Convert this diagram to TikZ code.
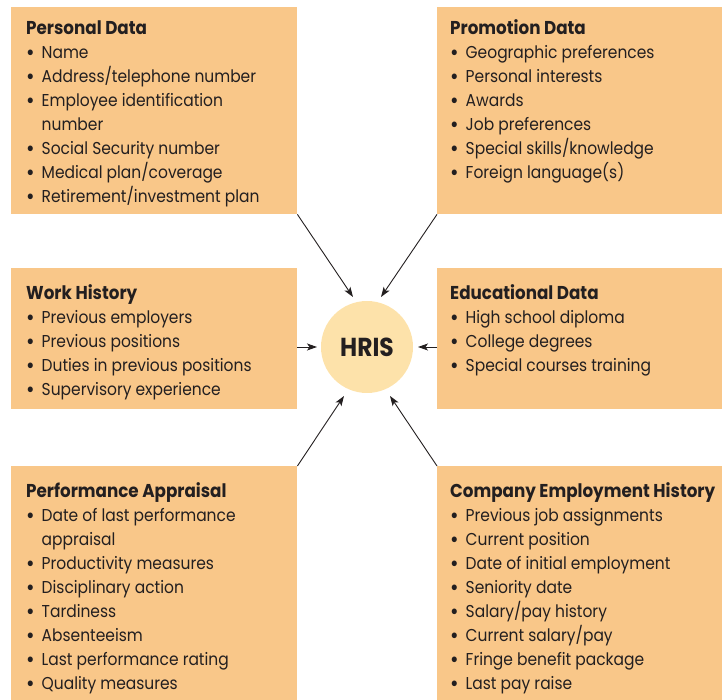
\documentclass[tikz,border=0pt]{standalone}
\usepackage{fontspec}
\setmainfont[FakeStretch=0.9]{Poppins}
\usetikzlibrary{arrows.meta}
\definecolor{boxfill}{RGB}{249,199,137}
\definecolor{hrisfill}{RGB}{253,226,170}
\definecolor{ink}{RGB}{35,31,32}
\newcommand{\bi}[1]{\makebox[15.5pt][l]{\raisebox{-1.2pt}{\fontsize{23}{24}\selectfont\textbullet}}#1}
\newcommand{\ct}[1]{\hspace*{15.5pt}#1}
\newcommand{\ttl}[1]{{\fontsize{18.6}{24}\selectfont\bfseries #1}}
\begin{document}
\begin{tikzpicture}[x=1pt,y=-1pt,
  databox/.style={fill=boxfill, draw=none, anchor=north west, inner sep=0pt},
  listtext/.style={anchor=base west, inner sep=0pt, text=ink, font=\fontsize{17.2}{24}\selectfont},
  arr/.style={draw=ink, line width=0.9pt, -{Stealth[length=10pt,width=7pt,inset=2.5pt]}}]
\useasboundingbox (0,0) rectangle (724,700);
% boxes
\node[databox, minimum width=286pt, minimum height=207pt] (pd) at (11,7) {};
\node[databox, minimum width=285pt, minimum height=207pt] (pr) at (437,7) {};
\node[databox, minimum width=286pt, minimum height=141pt] (wh) at (11,268) {};
\node[databox, minimum width=285pt, minimum height=141pt] (ed) at (437,268) {};
\node[databox, minimum width=286pt, minimum height=234pt] (pa) at (11,466) {};
\node[databox, minimum width=285pt, minimum height=234pt] (ce) at (437,466) {};
% texts
\node[listtext] (pdt) at (26,35) {\begin{tabular}[t]{@{}l@{}}\ttl{Personal Data}\\
\bi{Name}\\ \bi{Address/telephone number}\\ \bi{Employee identification}\\ \ct{number}\\
\bi{Social Security number}\\ \bi{Medical plan/coverage}\\ \bi{Retirement/investment plan}\end{tabular}};
\node[listtext] (prt) at (450,35) {\begin{tabular}[t]{@{}l@{}}\ttl{Promotion Data}\\
\bi{Geographic preferences}\\ \bi{Personal interests}\\ \bi{Awards}\\ \bi{Job preferences}\\
\bi{Special skills/knowledge}\\ \bi{Foreign language(s)}\end{tabular}};
\node[listtext] (wht) at (26,300) {\begin{tabular}[t]{@{}l@{}}\ttl{Work History}\\
\bi{Previous employers}\\ \bi{Previous positions}\\ \bi{Duties in previous positions}\\ \bi{Supervisory experience}\end{tabular}};
\node[listtext] (edt) at (450,300) {\begin{tabular}[t]{@{}l@{}}\ttl{Educational Data}\\
\bi{High school diploma}\\ \bi{College degrees}\\ \bi{Special courses training}\end{tabular}};
\node[listtext] (pat) at (26,498) {\begin{tabular}[t]{@{}l@{}}\ttl{Performance Appraisal}\\
\bi{Date of last performance}\\ \ct{appraisal}\\ \bi{Productivity measures}\\ \bi{Disciplinary action}\\
\bi{Tardiness}\\ \bi{Absenteeism}\\ \bi{Last performance rating}\\ \bi{Quality measures}\end{tabular}};
\node[listtext] (cet) at (450,498) {\begin{tabular}[t]{@{}l@{}}\ttl{Company Employment History}\\
\bi{Previous job assignments}\\ \bi{Current position}\\ \bi{Date of initial employment}\\ \bi{Seniority date}\\
\bi{Salary/pay history}\\ \bi{Current salary/pay}\\ \bi{Fringe benefit package}\\ \bi{Last pay raise}\end{tabular}};
% centre
\node[circle, fill=hrisfill, minimum size=92pt, inner sep=0pt, text=ink,
  font=\fontsize{26}{30}\selectfont\bfseries] (hris) at (367,347) {HRIS};
% arrow tips
\coordinate (t1) at (353,297);
\coordinate (t2) at (381,297);
\coordinate (t3) at (317,347);
\coordinate (t4) at (418,347);
\coordinate (t5) at (344,396);
\coordinate (t6) at (390,396);
\coordinate (s3) at (wh.east |- hris);
\coordinate (s4) at (ed.west |- hris);
\draw[arr] (pd.south east) -- (t1);
\draw[arr] (pr.south west) -- (t2);
\draw[arr] (s3) -- (t3);
\draw[arr] (s4) -- (t4);
\draw[arr] (pa.north east) -- (t5);
\draw[arr] (ce.north west) -- (t6);
\end{tikzpicture}
\end{document}
